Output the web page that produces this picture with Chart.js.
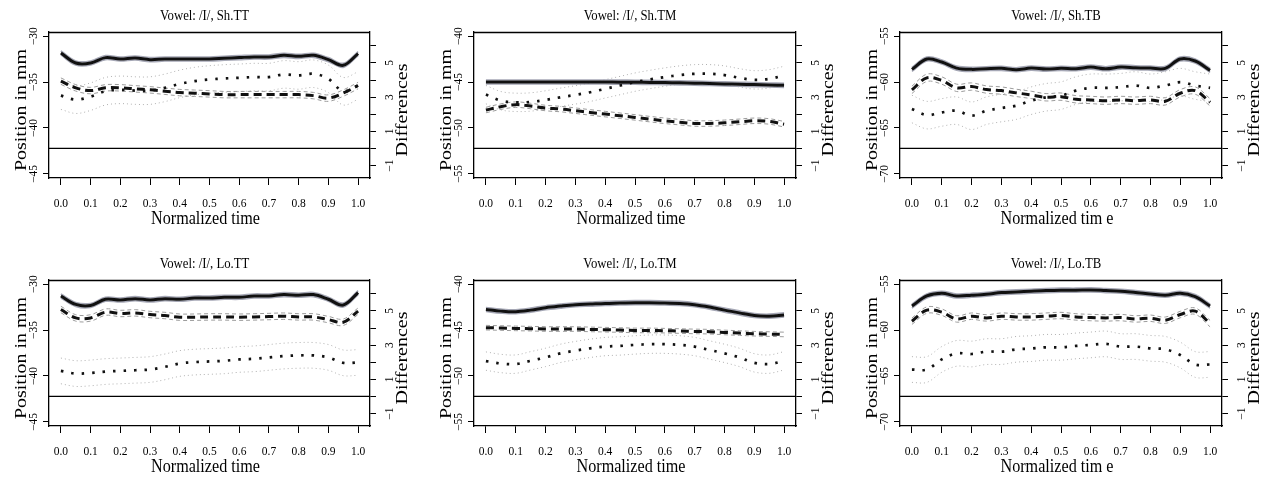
<!DOCTYPE html>
<html>
<head>
<meta charset="utf-8">
<script src="https://cdn.jsdelivr.net/npm/chart.js@4.4.1/dist/chart.umd.min.js"></script>
<style>
  html, body { margin: 0; padding: 0; background: #fff; }
  #wrap { position: relative; width: 1268px; height: 477px; overflow: hidden; background: #fff; }
  #wrap canvas { position: absolute; }
</style>
</head>
<body>
<div id="wrap"></div>
<script>
// normalized time of every sample, and axis ticks
const timePoints = [0, 0.05, 0.1, 0.15, 0.2, 0.25, 0.3, 0.35, 0.4, 0.45, 0.5,
                    0.55, 0.6, 0.65, 0.7, 0.75, 0.8, 0.85, 0.9, 0.95, 1.0];
const xTicks = [0, 0.1, 0.2, 0.3, 0.4, 0.5, 0.6, 0.7, 0.8, 0.9, 1.0];
const diffTicks = [-1, 0, 1, 2, 3, 4, 5, 6];
const diffLabels = [-1, 1, 3, 5];
const ttTicks = [-45, -40, -35, -30];
const tmTicks = [-55, -50, -45, -40];
const tbTicks = [-70, -65, -60, -55];

// Sh.TT
const shTT_solid  = [-31.83,-32.93,-32.93,-32.34,-32.49,-32.38,-32.56,-32.49,-32.49,-32.49,-32.49,-32.41,-32.34,-32.27,-32.27,-32.09,-32.20,-32.09,-32.56,-33.18,-31.90];
const shTT_dashed = [-34.90,-35.63,-35.93,-35.63,-35.63,-35.74,-35.85,-36.00,-36.15,-36.22,-36.29,-36.37,-36.37,-36.37,-36.37,-36.37,-36.37,-36.48,-36.75,-36.20,-35.38];
const shTT_dotted = [-36.48,-36.92,-36.59,-36.00,-35.85,-35.93,-35.93,-35.63,-35.20,-34.90,-34.72,-34.61,-34.54,-34.46,-34.46,-34.17,-34.28,-34.10,-34.65,-36.00,-35.38];
const shTT_bands  = [0.22, 0.35, 1.5];

// Sh.TM
const shTM_solid  = [-45.00,-45.00,-45.00,-45.00,-45.00,-45.00,-45.00,-45.00,-45.00,-45.01,-45.02,-45.04,-45.06,-45.09,-45.12,-45.16,-45.20,-45.24,-45.28,-45.32,-45.36];
const shTM_dashed = [-48.05,-47.68,-47.46,-47.61,-47.83,-47.94,-48.12,-48.31,-48.49,-48.67,-48.85,-49.04,-49.22,-49.37,-49.51,-49.51,-49.44,-49.33,-49.22,-49.29,-49.59];
const shTM_dotted = [-46.37,-47.03,-47.21,-47.17,-46.95,-46.66,-46.40,-46.11,-45.74,-45.38,-45.01,-44.72,-44.46,-44.24,-44.10,-44.10,-44.24,-44.54,-44.76,-44.65,-44.28];
const shTM_bands  = [0.22, 0.3, 1.0];

// Sh.TB
const shTB_solid  = [-58.62,-57.49,-57.82,-58.48,-58.62,-58.55,-58.51,-58.66,-58.48,-58.59,-58.51,-58.55,-58.37,-58.55,-58.37,-58.44,-58.48,-58.51,-57.49,-57.71,-58.73];
const shTB_dashed = [-60.85,-59.54,-59.83,-60.63,-60.49,-60.82,-60.93,-61.18,-61.40,-61.66,-61.59,-61.88,-61.95,-62.03,-61.95,-62.03,-61.95,-62.10,-61.22,-60.93,-62.21];
const shTB_dotted = [-62.94,-63.60,-63.31,-63.12,-63.67,-63.12,-62.83,-62.57,-62.03,-61.66,-61.48,-60.93,-60.63,-60.63,-60.56,-60.38,-60.63,-60.38,-60.01,-60.38,-60.63];
const shTB_bands  = [0.22, 0.4, 1.5];

// Lo.TT
const loTT_solid  = [-31.29,-32.21,-32.32,-31.65,-31.73,-31.58,-31.73,-31.58,-31.65,-31.51,-31.51,-31.43,-31.43,-31.29,-31.29,-31.14,-31.21,-31.14,-31.65,-32.28,-30.92];
const loTT_dashed = [-32.76,-33.68,-33.68,-33.05,-33.20,-33.13,-33.31,-33.42,-33.60,-33.60,-33.57,-33.57,-33.60,-33.57,-33.53,-33.49,-33.57,-33.57,-33.86,-34.15,-32.94];
const loTT_dotted = [-39.45,-39.74,-39.67,-39.52,-39.45,-39.38,-39.30,-39.01,-38.64,-38.49,-38.42,-38.35,-38.20,-38.13,-37.98,-37.83,-37.76,-37.76,-37.98,-38.57,-38.53];
const loTT_bands  = [0.22, 0.35, 1.4];

// Lo.TM
const loTM_solid  = [-42.76,-42.94,-43.01,-42.83,-42.57,-42.39,-42.24,-42.17,-42.10,-42.06,-42.02,-42.02,-42.06,-42.10,-42.24,-42.50,-42.83,-43.13,-43.42,-43.49,-43.35];
const loTM_dashed = [-44.74,-44.78,-44.82,-44.85,-44.89,-44.89,-44.89,-44.93,-44.96,-45.00,-45.04,-45.04,-45.07,-45.11,-45.15,-45.18,-45.26,-45.33,-45.40,-45.44,-45.48];
const loTM_dotted = [-48.38,-48.64,-48.71,-48.35,-47.98,-47.54,-47.24,-46.99,-46.80,-46.73,-46.62,-46.54,-46.54,-46.62,-46.80,-47.17,-47.54,-47.98,-48.57,-48.71,-48.35];
const loTM_bands  = [0.22, 0.25, 1.0];

// Lo.TB
const loTB_solid  = [-57.39,-56.29,-55.99,-56.29,-56.21,-56.10,-55.92,-55.85,-55.77,-55.70,-55.66,-55.66,-55.63,-55.70,-55.77,-55.92,-56.07,-56.21,-55.99,-56.36,-57.39];
const loTB_dashed = [-59.04,-57.83,-58.05,-58.79,-58.49,-58.68,-58.49,-58.57,-58.57,-58.49,-58.42,-58.57,-58.64,-58.68,-58.64,-58.79,-58.71,-58.93,-58.31,-57.94,-59.30];
const loTB_dotted = [-64.30,-64.30,-63.20,-62.54,-62.61,-62.35,-62.35,-62.10,-62.02,-61.88,-61.88,-61.73,-61.62,-61.51,-61.80,-61.80,-61.99,-62.10,-62.72,-63.75,-63.75];
const loTB_bands  = [0.22, 0.35, 1.4];

const panels = [
  { title: 'Vowel: /I/, Sh.TT', xLabel: 'Normalized time',  ticks: ttTicks, lines: [shTT_solid, shTT_dashed, shTT_dotted], bands: shTT_bands },
  { title: 'Vowel: /I/, Sh.TM', xLabel: 'Normalized time',  ticks: tmTicks, lines: [shTM_solid, shTM_dashed, shTM_dotted], bands: shTM_bands },
  { title: 'Vowel: /I/, Sh.TB', xLabel: 'Normalized tim e', ticks: tbTicks, lines: [shTB_solid, shTB_dashed, shTB_dotted], bands: shTB_bands },
  { title: 'Vowel: /I/, Lo.TT', xLabel: 'Normalized time',  ticks: ttTicks, lines: [loTT_solid, loTT_dashed, loTT_dotted], bands: loTT_bands },
  { title: 'Vowel: /I/, Lo.TM', xLabel: 'Normalized time',  ticks: tmTicks, lines: [loTM_solid, loTM_dashed, loTM_dotted], bands: loTM_bands },
  { title: 'Vowel: /I/, Lo.TB', xLabel: 'Normalized tim e', ticks: tbTicks, lines: [loTB_solid, loTB_dashed, loTB_dotted], bands: loTB_bands },
];

// layout (pixels in the 1268x477 page)
const canvasCols = [[0, 422], [422, 424], [846, 422]];
const canvasRows = [[0, 238], [238, 239]];
const plotCols = [[49, 370], [474, 796], [900, 1222]];
const plotRows = [[32, 178], [280, 426]];
const X_MIN = -0.04, X_MAX = 1.04;
const Y_PAD = 0.45;
const DIFF_MIN = -1.73, DIFF_MAX = 6.81;

const FONT = '"Liberation Serif", "Times New Roman", serif';

const mainStyles = [
  { color: '#111', width: 3, dash: [] },
  { color: '#111', width: 3, dash: [8, 5] },
  { color: '#111', width: 2.7, dash: [2.5, 8] },
];
const bandStyles = [
  { color: '#a6a8b6', width: 1.6, dash: [] },
  { color: '#9c9c9c', width: 1, dash: [4, 3] },
  { color: '#b0b0b0', width: 1, dash: [1, 3] },
];

function pts(vals, shift) {
  return timePoints.map((t, k) => ({ x: t, y: vals[k] + shift }));
}

function minus(v) { return String(v).replace('-', '\u2212'); }

function txt(ctx, s, x, y, size, rot, sx) {
  ctx.save();
  ctx.translate(x, y);
  ctx.scale(sx, 1);
  if (rot) ctx.rotate(-Math.PI / 2);
  ctx.font = size + 'px ' + FONT;
  ctx.textAlign = 'center';
  ctx.textBaseline = 'middle';
  ctx.fillStyle = '#000';
  ctx.fillText(s, 0, 0);
  ctx.restore();
}

// R-style texts: title, rotated tick labels, axis titles, top of the box
const decorations = {
  id: 'decorations',
  afterDraw(chart, args, opts) {
    const { ctx, chartArea: a, scales } = chart;
    const p = opts.panel;
    const midX = (a.left + a.right) / 2, midY = (a.top + a.bottom) / 2;
    ctx.save();
    ctx.strokeStyle = '#000';
    ctx.lineWidth = 1.3;
    ctx.beginPath();
    ctx.moveTo(a.left, Math.round(a.top) + 0.5);
    ctx.lineTo(a.right, Math.round(a.top) + 0.5);
    ctx.stroke();
    ctx.restore();

    txt(ctx, p.title, midX - 5, a.top - 16, 15, false, 0.85);
    scales.x.ticks.forEach(t =>
      txt(ctx, t.value.toFixed(1), scales.x.getPixelForValue(t.value), a.bottom + 26, 11.5, false, 1));
    scales.y.ticks.forEach(t =>
      txt(ctx, minus(t.value), a.left - 15, scales.y.getPixelForValue(t.value), 11.5, true, 1));
    diffLabels.forEach(v =>
      txt(ctx, minus(v), a.right + 20, scales.y2.getPixelForValue(v), 11.5, true, 1));
    txt(ctx, p.xLabel, midX - 4, a.bottom + 41, 19, false, 0.85);
    txt(ctx, 'Position in mm', a.left - 28, midY + 5, 20, true, 0.88);
    txt(ctx, 'Differences', a.right + 32, midY + 5, 20, true, 0.88);
  }
};

const wrap = document.getElementById('wrap');

panels.forEach((p, i) => {
  const col = i % 3, row = Math.floor(i / 3);
  const cx = canvasCols[col], cy = canvasRows[row];
  const cv = document.createElement('canvas');
  cv.width = cx[1]; cv.height = cy[1];
  cv.style.left = cx[0] + 'px'; cv.style.top = cy[0] + 'px';
  cv.style.width = cx[1] + 'px'; cv.style.height = cy[1] + 'px';
  wrap.appendChild(cv);

  const datasets = [];
  p.lines.forEach((vals, k) => {
    const m = mainStyles[k];
    datasets.push({ data: pts(vals, 0), borderColor: m.color, borderWidth: m.width,
                    borderDash: m.dash, order: 0, yAxisID: 'y' });
  });
  p.lines.forEach((vals, k) => {
    const b = bandStyles[k];
    [1, -1].forEach(sgn => datasets.push({
      data: pts(vals, sgn * p.bands[k]), borderColor: b.color, borderWidth: b.width,
      borderDash: b.dash, order: 1, yAxisID: 'y' }));
  });
  // zero line of the differences axis
  datasets.push({ data: [{ x: X_MIN, y: 0 }, { x: X_MAX, y: 0 }], borderColor: '#000',
                  borderWidth: 1.1, tension: 0, order: 2, yAxisID: 'y2' });

  const tickGrid = len => ({ display: true, drawOnChartArea: false, drawTicks: true,
                             tickLength: len, color: '#000', tickColor: '#000', lineWidth: 1 });
  const border = { display: true, color: '#000', width: 1.3 };

  new Chart(cv, {
    type: 'line',
    data: { datasets },
    options: {
      responsive: false,
      animation: false,
      devicePixelRatio: 1,
      layout: { padding: {
        left: plotCols[col][0] - cx[0],
        right: cx[0] + cx[1] - plotCols[col][1],
        top: plotRows[row][0] - cy[0],
        bottom: cy[0] + cy[1] - plotRows[row][1] } },
      elements: { point: { radius: 0 }, line: { tension: 0.35, fill: false } },
      plugins: { legend: { display: false }, tooltip: { enabled: false },
                 decorations: { panel: p } },
      scales: {
        x: { type: 'linear', min: X_MIN, max: X_MAX,
             afterBuildTicks: s => { s.ticks = xTicks.map(v => ({ value: v })); },
             afterFit: s => { s.height = 0; },
             ticks: { display: false }, grid: tickGrid(7), border },
        y: { type: 'linear', position: 'left',
             min: p.ticks[0] - Y_PAD, max: p.ticks[p.ticks.length - 1] + Y_PAD,
             afterBuildTicks: s => { s.ticks = p.ticks.map(v => ({ value: v })); },
             afterFit: s => { s.width = 0; },
             ticks: { display: false }, grid: tickGrid(6), border },
        y2: { type: 'linear', position: 'right', min: DIFF_MIN, max: DIFF_MAX,
              afterBuildTicks: s => { s.ticks = diffTicks.map(v => ({ value: v })); },
              afterFit: s => { s.width = 0; },
              ticks: { display: false }, grid: tickGrid(6), border }
      }
    },
    plugins: [decorations]
  });
});
</script>
</body>
</html>
